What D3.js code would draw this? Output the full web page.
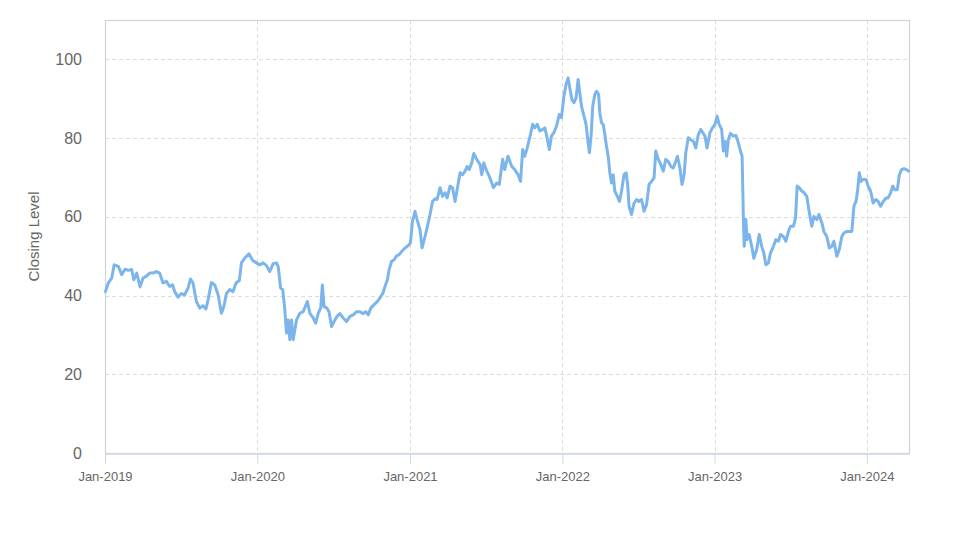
<!DOCTYPE html>
<html>
<head>
<meta charset="utf-8">
<script src="https://cdn.jsdelivr.net/npm/d3@7"></script>
<style>
  html, body { margin: 0; padding: 0; background: #fff; }
  svg { display: block; font-family: "Liberation Sans", Arial, sans-serif; }
</style>
</head>
<body>
<svg id="chart" width="974" height="547"></svg>
<script>
const dates = [
"2019-01-02","2019-01-09","2019-01-17","2019-01-23","2019-02-02","2019-02-10","2019-02-18","2019-02-26","2019-03-06","2019-03-11",
"2019-03-18","2019-03-26","2019-04-02","2019-04-11","2019-04-18","2019-04-26","2019-05-04","2019-05-12","2019-05-20","2019-05-28",
"2019-06-05","2019-06-12","2019-06-17","2019-06-25","2019-07-03","2019-07-11","2019-07-19","2019-07-25","2019-07-31","2019-08-08",
"2019-08-16","2019-08-24","2019-08-31","2019-09-05","2019-09-13","2019-09-21","2019-09-29","2019-10-07","2019-10-13","2019-10-19",
"2019-10-27","2019-11-04","2019-11-11","2019-11-19","2019-11-24","2019-12-02","2019-12-12","2019-12-21","2019-12-30","2020-01-07",
"2020-01-15","2020-01-23","2020-01-31","2020-02-08","2020-02-16","2020-02-20","2020-02-26","2020-03-02","2020-03-07","2020-03-11",
"2020-03-15","2020-03-19","2020-03-23","2020-03-27","2020-04-04","2020-04-12","2020-04-20","2020-04-30","2020-05-06","2020-05-14",
"2020-05-20","2020-05-26","2020-06-01","2020-06-05","2020-06-09","2020-06-16","2020-06-21","2020-06-27","2020-07-03","2020-07-10",
"2020-07-17","2020-07-25","2020-08-02","2020-08-10","2020-08-18","2020-08-26","2020-09-03","2020-09-11","2020-09-17","2020-09-23",
"2020-09-29","2020-10-07","2020-10-15","2020-10-21","2020-10-28","2020-11-02","2020-11-08","2020-11-12","2020-11-18","2020-11-24",
"2020-11-30","2020-12-06","2020-12-12","2020-12-20","2020-12-28","2021-01-02","2021-01-07","2021-01-13","2021-01-18","2021-01-25",
"2021-01-30","2021-02-06","2021-02-11","2021-02-18","2021-02-24","2021-03-02","2021-03-07","2021-03-14","2021-03-20","2021-03-26",
"2021-03-31","2021-04-07","2021-04-13","2021-04-19","2021-04-24","2021-05-01","2021-05-07","2021-05-13","2021-05-18","2021-05-23",
"2021-05-29","2021-06-03","2021-06-10","2021-06-18","2021-06-22","2021-06-27","2021-07-04","2021-07-10","2021-07-16","2021-07-20",
"2021-07-28","2021-08-03","2021-08-11","2021-08-16","2021-08-24","2021-09-02","2021-09-09","2021-09-17","2021-09-23","2021-09-28",
"2021-10-03","2021-10-09","2021-10-15","2021-10-22","2021-10-27","2021-11-02","2021-11-08","2021-11-15","2021-11-20","2021-11-24",
"2021-12-01","2021-12-06","2021-12-12","2021-12-18","2021-12-25","2021-12-30","2022-01-05","2022-01-10","2022-01-15","2022-01-19",
"2022-01-24","2022-01-29","2022-02-03","2022-02-08","2022-02-12","2022-02-16","2022-02-22","2022-02-27","2022-03-03","2022-03-07",
"2022-03-11","2022-03-15","2022-03-20","2022-03-24","2022-03-29","2022-04-01","2022-04-05","2022-04-09","2022-04-13","2022-04-17",
"2022-04-21","2022-04-25","2022-04-29","2022-05-03","2022-05-07","2022-05-13","2022-05-18","2022-05-23","2022-05-29","2022-06-03",
"2022-06-07","2022-06-10","2022-06-16","2022-06-22","2022-06-28","2022-07-04","2022-07-10","2022-07-16","2022-07-22","2022-07-28",
"2022-08-03","2022-08-09","2022-08-13","2022-08-19","2022-08-25","2022-08-31","2022-09-06","2022-09-12","2022-09-18","2022-09-24",
"2022-09-30","2022-10-04","2022-10-10","2022-10-15","2022-10-20","2022-10-24","2022-10-30","2022-11-05","2022-11-11","2022-11-17",
"2022-11-23","2022-11-29","2022-12-09","2022-12-14","2022-12-21","2022-12-27","2023-01-02","2023-01-07","2023-01-12","2023-01-18",
"2023-01-22","2023-01-26","2023-01-30","2023-02-03","2023-02-08","2023-02-15","2023-02-21","2023-02-27","2023-03-03","2023-03-08",
"2023-03-11","2023-03-13","2023-03-17","2023-03-20","2023-03-25","2023-03-31","2023-04-05","2023-04-12","2023-04-18","2023-04-24",
"2023-04-29","2023-05-04","2023-05-10","2023-05-15","2023-05-22","2023-05-28","2023-06-03","2023-06-08","2023-06-15","2023-06-21",
"2023-06-27","2023-07-02","2023-07-09","2023-07-14","2023-07-18","2023-07-23","2023-07-29","2023-08-03","2023-08-10","2023-08-15",
"2023-08-22","2023-08-27","2023-09-03","2023-09-08","2023-09-15","2023-09-20","2023-09-27","2023-10-03","2023-10-09","2023-10-14",
"2023-10-21","2023-10-27","2023-11-02","2023-11-07","2023-11-14","2023-11-20","2023-11-26","2023-12-01","2023-12-06","2023-12-10",
"2023-12-14","2023-12-18","2023-12-23","2023-12-30","2024-01-04","2024-01-10","2024-01-16","2024-01-23","2024-01-28","2024-02-03",
"2024-02-09","2024-02-16","2024-02-21","2024-02-27","2024-03-03","2024-03-08","2024-03-14","2024-03-19","2024-03-24","2024-03-30",
"2024-04-05","2024-04-10"
];
const closingLevels = [
41.0,43.2,44.4,47.8,47.4,45.3,46.7,46.4,46.6,44.0,
45.7,42.2,44.4,45.0,45.7,45.7,46.1,45.7,43.2,43.6,
42.3,42.7,41.0,39.6,40.5,40.2,41.9,44.2,43.2,38.5,
36.8,37.4,36.6,38.9,43.3,42.7,40.2,35.5,37.2,40.5,
41.5,41.0,43.2,43.8,48.3,49.5,50.6,48.9,48.3,47.8,
48.3,47.6,46.1,48.1,48.3,47.4,41.9,41.5,36.4,30.5,
33.8,28.8,33.8,28.8,33.8,35.5,35.9,38.5,35.5,34.3,
33.0,35.5,36.8,42.7,37.2,36.8,35.9,32.1,33.4,34.7,
35.4,34.3,33.4,34.7,35.1,35.9,35.9,35.4,35.9,35.1,
36.8,37.7,38.5,39.4,40.6,42.3,44.0,46.6,48.7,49.1,
50.1,50.4,51.2,52.1,52.7,53.4,58.9,61.4,59.3,56.7,
52.1,55.0,57.2,60.6,63.9,64.6,64.4,67.4,65.2,66.1,
64.8,67.8,67.4,63.9,66.9,71.2,70.7,71.6,72.8,72.0,
73.7,76.1,74.6,73.3,70.7,73.7,71.6,70.3,68.6,67.4,
68.6,68.2,74.6,72.0,75.4,72.8,72.0,70.7,69.0,77.1,
75.4,77.5,80.1,83.5,82.6,83.5,81.8,82.2,82.6,80.9,
77.1,80.5,81.4,83.0,86.0,85.2,90.7,93.6,95.3,92.8,
89.8,89.0,90.2,94.9,91.5,88.1,85.6,83.5,79.6,76.3,
80.5,88.1,91.1,91.9,91.1,86.4,83.9,83.5,80.9,77.9,
75.4,71.2,68.6,70.7,66.5,65.2,63.9,66.5,70.7,71.2,
67.8,62.7,60.6,63.5,64.4,63.9,64.4,61.4,63.1,68.2,
69.0,69.9,76.7,74.6,73.3,71.6,74.6,74.1,72.8,72.4,
74.1,75.4,72.4,68.2,70.7,76.3,80.1,79.6,79.2,77.5,
80.9,82.2,80.5,77.5,81.4,82.6,83.5,85.6,83.5,82.2,
76.7,79.2,75.4,79.6,81.2,80.5,80.7,78.8,77.1,75.4,
59.7,52.5,59.3,54.2,55.5,52.5,49.5,51.7,55.5,52.5,
50.8,47.8,48.3,50.8,52.5,54.2,53.8,55.5,55.0,53.8,
56.3,57.6,57.6,59.7,67.8,67.4,66.5,66.2,65.2,61.8,
57.6,60.1,59.3,60.6,58.5,56.3,55.0,52.1,52.5,53.8,
50.0,51.7,55.0,55.9,56.3,56.3,56.3,62.7,63.9,66.9,
71.2,69.0,69.5,69.5,67.8,66.5,63.5,64.4,63.9,62.7,
63.9,64.8,64.8,66.1,67.8,66.9,66.9,70.7,72.0,72.2,
72.0,71.6
];
const xTickLabels = ["Jan-2019","Jan-2020","Jan-2021","Jan-2022","Jan-2023","Jan-2024"];
const yTicks = [0, 20, 40, 60, 80, 100];
const yAxisTitle = "Closing Level";
const xStart = "2019-01-01", xEnd = "2024-04-11";
const yMax = 110;

const parse = d3.timeParse("%Y-%m-%d");
const data = dates.map((d, i) => ({ date: parse(d), value: closingLevels[i] }));

const svg = d3.select("#chart");
const margin = { left: 105, right: 65, top: 20, bottom: 94 };
const W = 974, H = 547;
const iw = W - margin.left - margin.right;
const ih = H - margin.top - margin.bottom;

const x = d3.scaleTime().domain([parse(xStart), parse(xEnd)]).range([margin.left, margin.left + iw]);
const y = d3.scaleLinear().domain([0, yMax]).range([margin.top + ih, margin.top]);

const tickDates = xTickLabels.map(s => d3.timeParse("%b-%Y")(s));

// horizontal grid
svg.append("g").selectAll("line").data(yTicks.filter(t => t > 0)).join("line")
  .attr("x1", margin.left).attr("x2", margin.left + iw)
  .attr("y1", d => Math.round(y(d)) + 0.5).attr("y2", d => Math.round(y(d)) + 0.5)
  .attr("stroke", "#dcdcdc").attr("stroke-dasharray", "4,3").attr("stroke-width", 1);

// vertical grid
svg.append("g").selectAll("line").data(tickDates.slice(1)).join("line")
  .attr("x1", d => Math.round(x(d)) + 0.5).attr("x2", d => Math.round(x(d)) + 0.5)
  .attr("y1", margin.top).attr("y2", margin.top + ih)
  .attr("stroke", "#dcdcdc").attr("stroke-dasharray", "4,3").attr("stroke-width", 1);

// frame
svg.append("rect")
  .attr("x", margin.left + 0.5).attr("y", margin.top + 0.5)
  .attr("width", iw).attr("height", ih)
  .attr("fill", "none").attr("stroke", "#cfd3dc").attr("stroke-width", 1.2);

// line
const line = d3.line().x(d => x(d.date)).y(d => y(d.value)).curve(d3.curveLinear);
svg.append("path").datum(data)
  .attr("d", line).attr("fill", "none")
  .attr("stroke", "#7cb5ec").attr("stroke-width", 3)
  .attr("stroke-linejoin", "round").attr("stroke-linecap", "round");

// x axis
const xAxis = d3.axisBottom(x).tickValues(tickDates)
  .tickFormat((d, i) => xTickLabels[i]).tickSize(10).tickSizeOuter(0).tickPadding(8);
const gx = svg.append("g").attr("transform", `translate(0,${margin.top + ih + 0.5})`).call(xAxis);
gx.select(".domain").attr("stroke", "#ccd6eb").attr("stroke-width", 1.5);
gx.selectAll(".tick line").attr("stroke", "#ccd6eb");
gx.selectAll(".tick text").attr("fill", "#666").style("font-size", "13px")
  .style("font-family", '"Liberation Sans", Arial, sans-serif');

// y axis
const yAxis = d3.axisLeft(y).tickValues(yTicks).tickSize(0).tickPadding(23);
const gy = svg.append("g").attr("transform", `translate(${margin.left},0)`).call(yAxis);
gy.select(".domain").remove();
gy.selectAll(".tick text").attr("fill", "#666").style("font-size", "16px")
  .style("font-family", '"Liberation Sans", Arial, sans-serif');

// y title
svg.append("text")
  .attr("transform", `translate(34,${margin.top + ih / 2}) rotate(-90)`)
  .attr("text-anchor", "middle")
  .attr("dy", "0.35em")
  .attr("fill", "#666")
  .style("font-size", "15px")
  .text(yAxisTitle);
</script>
</body>
</html>
